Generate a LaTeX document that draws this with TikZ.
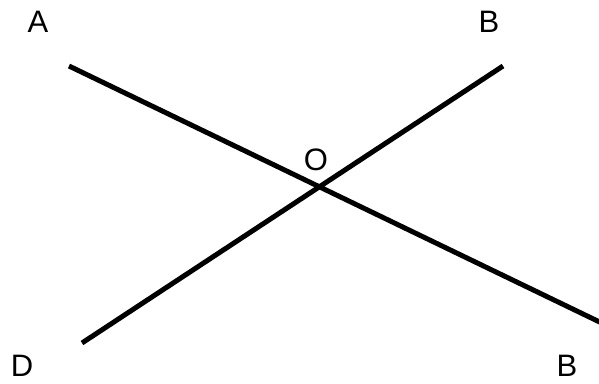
\documentclass[tikz,border=0pt]{standalone}
\usepackage{fontspec}
\setmainfont{Liberation Sans}
\tikzset{lbl/.style={font=\fontsize{31}{34}\selectfont,inner sep=0pt},
  ray/.style={line width=5pt}}
\begin{document}
\begin{tikzpicture}[x=1pt,y=-1pt]
\useasboundingbox (0,0) rectangle (599,383);
% end points of the two lines
\coordinate (a) at (69,66);
\coordinate (b1) at (503,66);
\coordinate (d) at (82,343);
\coordinate (b2) at (610,327);
\draw[ray] (a) -- (b2);
\draw[ray] (d) -- (b1);
% labels
\node[lbl] (la) at (38,22) {A};
\node[lbl] (lb1) at (489,22) {B};
\node[lbl] (lo) at (316,160) {O};
\node[lbl] (ld) at (22,366) {D};
\node[lbl] (lb2) at (567,366) {B};
\end{tikzpicture}
\end{document}
